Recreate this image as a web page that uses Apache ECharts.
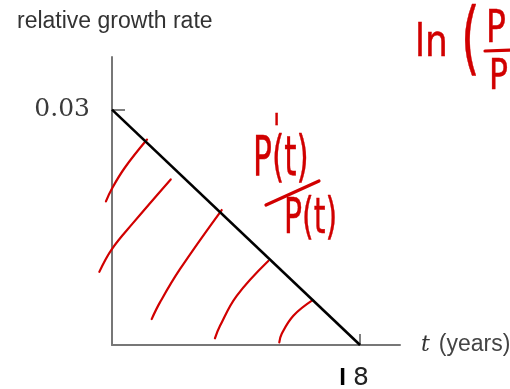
<!DOCTYPE html>
<html>
<head>
<meta charset="utf-8">
<script src="https://cdn.jsdelivr.net/npm/echarts@6/dist/echarts.min.js"></script>
<style>
  html, body { margin: 0; padding: 0; background: #fff; }
  #chart { width: 510px; height: 389px; }
</style>
</head>
<body>
<div id="chart"></div>
<script>
// Relative growth rate falls linearly from 0.03 at t = 0 to 0 at t = 18.
const rateLine = [[0, 0.03], [18, 0]];
const yTicks = [0.03];
const xTicks = [18];

// Hand-drawn shading strokes under the line (t, rate).
const hatch1 = [[-0.44, 0.0183], [0, 0.01995], [0.94, 0.02262], [2.54, 0.02618]];
const hatch2 = [[-0.92, 0.00932], [-0.02, 0.0122], [1.55, 0.01559], [4.26, 0.0211]];
const hatch3 = [[2.88, 0.0033], [3.48, 0.00543], [4.93, 0.00966], [7.96, 0.0172]];
const hatch4 = [[7.47, 0.00085], [7.84, 0.00245], [9.05, 0.00627], [11.34, 0.01071]];
const hatch5 = [[12.14, 0.00034], [12.31, 0.0014], [13.16, 0.00373], [14.56, 0.00572]];
const hatches = [hatch1, hatch2, hatch3, hatch4, hatch5];

const RED = '#d10000';
const chart = echarts.init(document.getElementById('chart'));

// Each stroke is one custom item so it is free to cross the y axis.
const hatchSeries = {
  type: 'custom',
  data: hatches.map((_, i) => [i]),
  clip: false,
  silent: true,
  z: 1,
  renderItem: (params, api) => {
    const pts = hatches[params.dataIndex].map(p => api.coord(p));
    return {
      type: 'polyline',
      shape: { points: pts, smooth: 0.4 },
      style: { stroke: RED, lineWidth: 2.2, fill: null, lineCap: 'round' }
    };
  }
};

const handFont = size => size + 'px "DejaVu Sans"';

chart.setOption({
  animation: false,
  backgroundColor: '#fff',
  grid: { left: 112, right: 110, top: 57, bottom: 44, outerBoundsMode: 'none', containLabel: false },
  xAxis: {
    type: 'value',
    min: 0,
    max: 20.9,
    interval: 18,
    splitLine: { show: false },
    axisLine: { lineStyle: { color: '#777', width: 2 } },
    axisTick: { show: true, inside: true, length: 11, customValues: xTicks,
      lineStyle: { color: '#555', width: 1.5 } },
    axisLabel: {
      customValues: xTicks,
      margin: 21,
      formatter: () => '{a|I}{b|8}',
      rich: {
        a: { fontFamily: 'Liberation Sans', fontSize: 24, fontWeight: 'bold', color: '#000', padding: [0, 7, 0, 0] },
        b: { fontFamily: 'DejaVu Sans', fontSize: 25, color: '#222', padding: [0, 12, 0, 0] }
      }
    },
    name: '{t|t}{y|(years)}',
    nameLocation: 'end',
    nameGap: 21,
    nameTextStyle: {
      rich: {
        t: { fontFamily: 'DejaVu Serif', fontStyle: 'italic', fontSize: 22, color: '#333', padding: [0, 9, 0, 0] },
        y: { fontFamily: 'Liberation Sans', fontSize: 23, color: '#444' }
      }
    }
  },
  yAxis: {
    type: 'value',
    min: 0,
    max: 0.0367,
    interval: 0.03,
    splitLine: { show: false },
    axisLine: { lineStyle: { color: '#777', width: 2 } },
    axisTick: { show: true, inside: true, length: 13, customValues: yTicks,
      lineStyle: { color: '#555', width: 1.5 } },
    axisLabel: {
      customValues: yTicks,
      margin: 22,
      formatter: v => v.toFixed(2),
      fontFamily: 'DejaVu Serif',
      fontSize: 25,
      color: '#3a3a3a'
    }
  },
  title: {
    text: 'relative growth rate',
    left: 12,
    top: 5,
    textStyle: { fontFamily: 'Liberation Sans', fontSize: 23, fontWeight: 'normal', color: '#333' }
  },
  graphic: [
    // handwritten fraction P'(t)/P(t)
    { type: 'text', x: 273, y: 113, scaleX: 0.6, z: 10,
      style: { text: "'", font: handFont(44), fill: RED, stroke: RED, lineWidth: 0.5 } },
    { type: 'text', x: 253, y: 132, scaleX: 0.56, z: 10,
      style: { text: 'P(t)', font: handFont(56), fill: RED, stroke: RED, lineWidth: 0.5 } },
    { type: 'line', z: 10, shape: { x1: 266, y1: 205, x2: 319, y2: 181 },
      style: { stroke: RED, lineWidth: 3.2, lineCap: 'round' } },
    { type: 'text', x: 284, y: 195, scaleX: 0.6, z: 10,
      style: { text: 'P(t)', font: handFont(50), fill: RED, stroke: RED, lineWidth: 0.5 } },
    // handwritten ln(P/P at the top right
    { type: 'text', x: 415, y: 22, scaleX: 0.8, z: 10,
      style: { text: 'ln', font: handFont(45), fill: RED, stroke: RED, lineWidth: 0.5 } },
    { type: 'text', x: 461, y: 4, scaleX: 0.6, z: 10,
      style: { text: '(', font: handFont(80), fill: RED, stroke: RED, lineWidth: 0.5 } },
    { type: 'text', x: 486, y: 9, scaleX: 0.75, z: 10,
      style: { text: 'P', font: handFont(44), fill: RED, stroke: RED, lineWidth: 0.5 } },
    { type: 'line', z: 10, shape: { x1: 485, y1: 51, x2: 512, y2: 50 },
      style: { stroke: RED, lineWidth: 3.2, lineCap: 'round' } },
    { type: 'text', x: 489, y: 57, scaleX: 0.75, z: 10,
      style: { text: 'P', font: handFont(42), fill: RED, stroke: RED, lineWidth: 0.5 } }
  ],
  series: [
    {
      type: 'line',
      data: rateLine,
      symbol: 'none',
      z: 3,
      lineStyle: { color: '#000', width: 2.6 }
    },
    hatchSeries
  ]
});
</script>
</body>
</html>
